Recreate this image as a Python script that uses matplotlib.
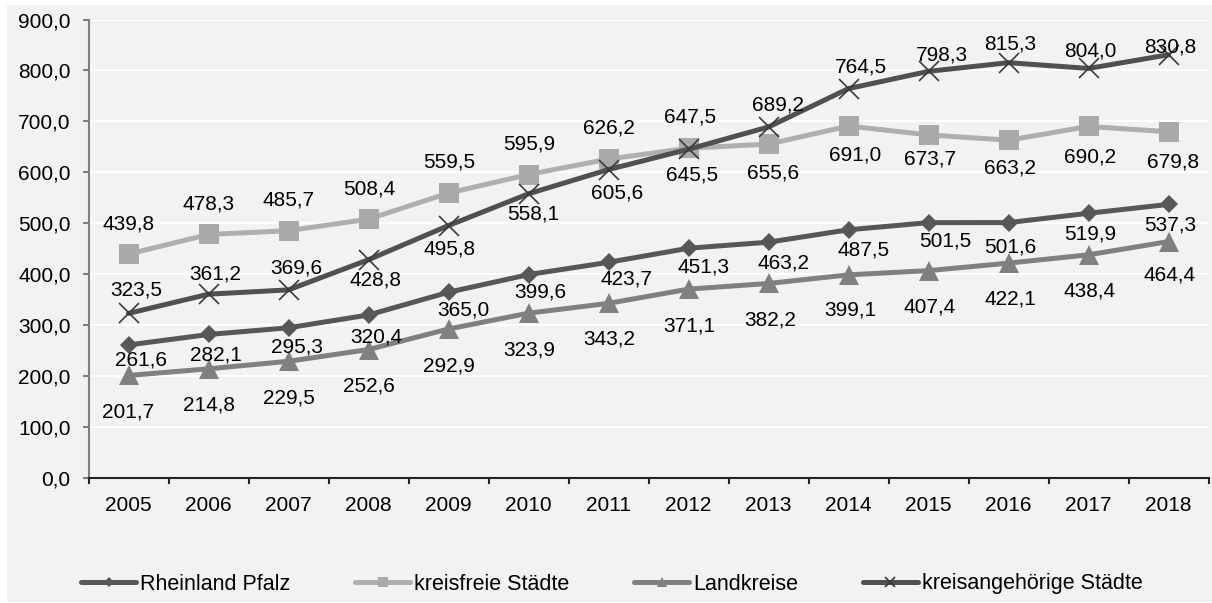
import matplotlib
matplotlib.use("Agg")
import matplotlib.pyplot as plt
from matplotlib.patches import Rectangle
from matplotlib.lines import Line2D

plt.rcParams['font.family'] = ['Liberation Sans', 'DejaVu Sans']

# ---------------- data ----------------
years = ["2005", "2006", "2007", "2008", "2009", "2010", "2011",
         "2012", "2013", "2014", "2015", "2016", "2017", "2018"]
rheinland_pfalz = [261.6, 282.1, 295.3, 320.4, 365.0, 399.6, 423.7,
                   451.3, 463.2, 487.5, 501.5, 501.6, 519.9, 537.3]
kreisfreie = [439.8, 478.3, 485.7, 508.4, 559.5, 595.9, 626.2,
              647.5, 655.6, 691.0, 673.7, 663.2, 690.2, 679.8]
landkreise = [201.7, 214.8, 229.5, 252.6, 292.9, 323.9, 343.2,
              371.1, 382.2, 399.1, 407.4, 422.1, 438.4, 464.4]
kreisangehoerige = [323.5, 361.2, 369.6, 428.8, 495.8, 558.1, 605.6,
                    645.5, 689.2, 764.5, 798.3, 815.3, 804.0, 830.8]
series_names = ["Rheinland Pfalz", "kreisfreie Städte", "Landkreise",
                "kreisangehörige Städte"]
yticks = [0, 100, 200, 300, 400, 500, 600, 700, 800, 900]

# ---------------- label placement (pixels, +dy = downwards) ----------------
rp_dx = [12.7, 7.3, 8.2, 8.2, 15, 11.5, 18, 15, 15, 15, 16.5, 1.5, 1.5, 1.5]
rp_dy = [13.3, 19, 17.3, 20, 16, 15.5, 15, 17, 18.6, 18.6, 16, 22.5, 18.6, 19]
kf_dx = [0, 0, 0, 0.5, 0.8, 0.8, 0.8, 1.2, 4.8, 6.5, 1.5, 1.5, 1.5, 4.5]
kf_dy = [-32.3, -32.7, -32.3, -32.3, -33, -32.7, -33.3, -33, 26.8, 27.4, 22, 25.6, 28.7, 28.4]
lk_dx = [0, 0, 0.5, 0.5, 0.5, 0.8, 1.2, 0.7, 1.2, 1.5, 1.5, 1.5, 1.5, 1.5]
lk_dy = [34.6, 34.6, 34.4, 34.5, 35, 35.2, 34, 35, 35, 33.5, 34, 34, 34, 31]
ka_dx = [8.2, 6.5, 8.2, 6.5, 0.8, 5.2, 8.8, 3.8, 9.2, 12.5, 13.2, 1.5, 1.5, 1.5]
ka_dy = [-25, -22.4, -23.8, 18.7, 21, 18, 21.3, 24.2, -23.5, -23.4, -17.9, -20.8, -19, -9.6]

FS = 15
CAP_HALF = 0.716 * FS * 100 / 72 / 2

def de(v):
    return f"{v:.1f}".replace(".", ",")

fig = plt.figure(figsize=(12.12, 6.03), dpi=100, facecolor="white")
fig.patches.append(Rectangle((7 / 1212, 1 / 603), 1205 / 1212, 597 / 603,
                             transform=fig.transFigure, facecolor="#f2f2f2",
                             edgecolor="none", zorder=-10))
ax = fig.add_axes([88.5 / 1212, 1 - 478.3 / 603, 1120 / 1212, (478.3 - 19.5) / 603])
ax.set_facecolor("#f2f2f2")

x = list(range(len(years)))

styles = [
    dict(color="#575757", marker="D", ms=9.6, mfc="#575757", mec="#575757", mew=0),
    dict(color="#afafaf", marker="s", ms=14, mfc="#a9a9a9", mec="#a9a9a9", mew=0),
    dict(color="#808080", marker="^", ms=14.5, mfc="#808080", mec="#808080", mew=0),
    dict(color="#505050", marker="x", ms=14.5, mfc="#3a3a3a", mec="#3a3a3a", mew=1.2),
]
data = [rheinland_pfalz, kreisfreie, landkreise, kreisangehoerige]
offsets = [(rp_dx, rp_dy), (kf_dx, kf_dy), (lk_dx, lk_dy), (ka_dx, ka_dy)]

handles = []
for i, (vals, st, name) in enumerate(zip(data, styles, series_names)):
    ax.plot(x, vals, lw=3.6, solid_capstyle="round", zorder=3 + i, **st)
    handles.append(Line2D([], [], lw=3.6, solid_capstyle="round", label=name, **st))

for vals, (dxs, dys) in zip(data, offsets):
    for xi, v, dx, dy in zip(x, vals, dxs, dys):
        ax.annotate(de(v), (xi, v), xytext=(dx, -(dy + CAP_HALF)),
                    textcoords="offset pixels", ha="center", va="baseline",
                    fontsize=FS, color="black", zorder=10)

ax.set_xlim(-0.5, len(years) - 0.5)
ax.set_ylim(0, 900)
ax.set_yticks(yticks)
ax.set_yticklabels([de(t) for t in yticks])
ax.set_xticks(x)
ax.set_xticklabels(years)
ax.set_xticks([i - 0.5 for i in range(len(years) + 1)], minor=True)

ax.tick_params(axis="x", which="major", length=0, pad=12.5, labelsize=FS, colors="black")
ax.tick_params(axis="x", which="minor", length=4.3, width=1.5, color="#222222", direction="out")
ax.tick_params(axis="y", which="major", length=4.3, width=1.5, color="#7f7f7f",
               pad=8.5, labelsize=FS, labelcolor="black")

ax.grid(axis="y", color="white", lw=1.5, zorder=1)
ax.set_axisbelow(True)
for s in ["top", "right"]:
    ax.spines[s].set_visible(False)
ax.spines["left"].set_color("#7f7f7f")
ax.spines["left"].set_linewidth(1.5)
ax.spines["bottom"].set_color("#222222")
ax.spines["bottom"].set_linewidth(1.5)

fig.legend(handles=handles, loc="center", bbox_to_anchor=(0.505, 1 - 584 / 603),
           ncol=4, frameon=False, fontsize=15.5, handlelength=2.55,
           handletextpad=0.2, columnspacing=3.0, markerscale=0.5)

fig.savefig("out.png", dpi=100, facecolor="white")
